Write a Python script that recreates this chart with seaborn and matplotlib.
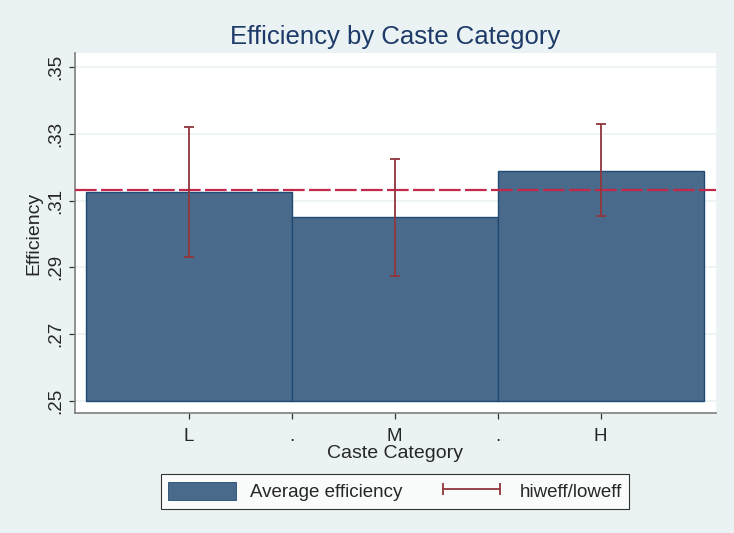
import matplotlib
matplotlib.use("Agg")
import matplotlib.pyplot as plt
import seaborn as sns
import numpy as np
import pandas as pd
from matplotlib.patches import Patch
from matplotlib.lines import Line2D

# data
caste_pos = [1, 2, 3]
caste_labels = ["L", "M", "H"]
avg_eff = [0.3126, 0.3050, 0.3188]
hi_eff = [0.3320, 0.3226, 0.3328]
lo_eff = [0.2930, 0.2874, 0.3053]
overall_mean = 0.3133

xtick_pos = [1, 1.5, 2, 2.5, 3]
xtick_labels = ["L", ".", "M", ".", "H"]
ytick_vals = [0.25, 0.27, 0.29, 0.31, 0.33, 0.35]
ytick_labels = [".25", ".27", ".29", ".31", ".33", ".35"]

df = pd.DataFrame({"caste": caste_pos, "eff": avg_eff})

bg = "#eaf2f3"
bar_col = "#4a6a8b"
bar_edge = "#1f4a74"
err_col = "#90353b"
ref_col = "#c3284b"
title_col = "#1e3a68"

sns.set_style("white")
plt.rcParams["font.family"] = ["Liberation Sans", "DejaVu Sans"]

fig, ax = plt.subplots(figsize=(7.34, 5.33), dpi=100)
fig.patch.set_facecolor(bg)
ax.set_facecolor("white")
fig.subplots_adjust(left=0.102, right=0.975, top=0.9006, bottom=0.2251)

# grid
for v in ytick_vals:
    ax.axhline(v, color=bg, lw=1.2, zorder=0)

sns.barplot(data=df, x="caste", y="eff", native_scale=True, width=1.0,
            color=bar_col, saturation=1, edgecolor=bar_edge, linewidth=1.0,
            errorbar=None, ax=ax, zorder=2)
for p in ax.patches:
    p.set_y(0.25)
    p.set_height(p.get_height() - 0.25)

ax.axhline(overall_mean, color=ref_col, lw=1.6, dashes=(9.75, 1.95), zorder=3)

mid = [(h + l) / 2 for h, l in zip(hi_eff, lo_eff)]
half = [(h - l) / 2 for h, l in zip(hi_eff, lo_eff)]
ax.errorbar(caste_pos, mid, yerr=half, fmt="none", ecolor=err_col,
            elinewidth=1.3, capsize=3.4, capthick=1.3, zorder=4)

ax.set_xlim(0.447, 3.558)
ax.set_ylim(0.2464, 0.3542)
ax.set_xticks(xtick_pos)
ax.set_xticklabels(xtick_labels, fontsize=13.5)
ax.set_yticks(ytick_vals)
ax.set_yticklabels(ytick_labels, fontsize=13.5, rotation=90, va="center")
ax.tick_params(axis="x", direction="out", length=4.5, width=0.9,
               color="#333333", pad=6, bottom=True)
ax.tick_params(axis="y", direction="out", length=4.5, width=0.9,
               color="#333333", pad=3.5, left=True)

for s in ["top", "right"]:
    ax.spines[s].set_visible(False)
for s in ["left", "bottom"]:
    ax.spines[s].set_color("#7f7f7f")
    ax.spines[s].set_linewidth(1.2)

ax.set_xlabel("Caste Category", fontsize=14, labelpad=0.5)
ax.set_ylabel("Efficiency", fontsize=14, labelpad=3.5)
ax.set_title("Efficiency by Caste Category", fontsize=18.5, color=title_col, pad=6.5)

handles = [
    Patch(facecolor=bar_col, edgecolor=bar_edge, linewidth=0.6),
    Line2D([0, 1], [0, 0], color=err_col, lw=1.3, marker="|", markersize=8,
           markeredgewidth=1.3),
]
leg = fig.legend(handles, ["Average efficiency", "hiweff/loweff"],
                 loc="center", bbox_to_anchor=(0.538, 0.078), ncol=2,
                 fontsize=13.5, frameon=True, fancybox=False, numpoints=2,
                 handlelength=3.6, handleheight=1.1, columnspacing=1.9,
                 handletextpad=0.75, borderpad=0.4)
leg.get_frame().set_edgecolor("black")
leg.get_frame().set_linewidth(0.8)
leg.get_frame().set_facecolor("white")

fig.savefig("out.png", dpi=100, facecolor=bg)
